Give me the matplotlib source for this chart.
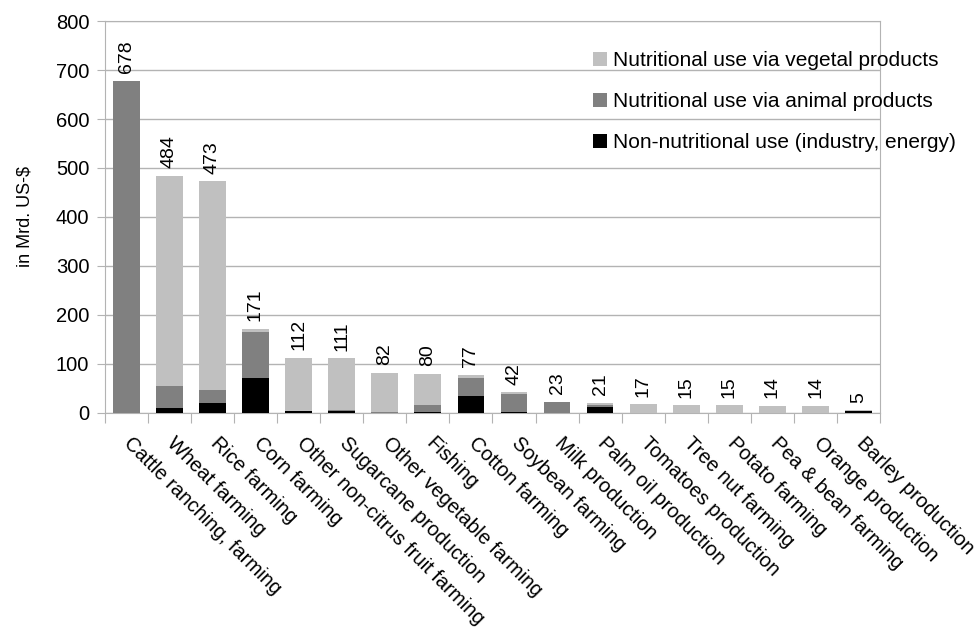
import numpy as np
import matplotlib.pyplot as plt

plt.rcParams['font.family'] = ['Liberation Sans', 'DejaVu Sans']

categories = ['Cattle ranching, farming', 'Wheat farming', 'Rice farming', 'Corn farming',
              'Other non-citrus fruit farming', 'Sugarcane production', 'Other vegetable farming',
              'Fishing', 'Cotton farming', 'Soybean farming', 'Milk production',
              'Palm oil production', 'Tomatoes production', 'Tree nut farming',
              'Potato farming', 'Pea & bean farming', 'Orange production', 'Barley production']
totals = [678, 484, 473, 171, 112, 111, 82, 80, 77, 42, 23, 21, 17, 15, 15, 14, 14, 5]
non_nutritional = [0, 9, 21, 72, 3, 3, 0, 2, 34, 2, 0, 12, 0, 0, 0, 0, 0, 3]
animal = [678, 45, 26, 92, 0, 3, 1, 14, 37, 36, 23, 4, 0, 0, 0, 0, 0, 1]
vegetal = [t - n - a for t, n, a in zip(totals, non_nutritional, animal)]

fig = plt.figure(figsize=(9.78, 6.39), dpi=100)
ax = fig.add_axes([0.107, 0.354, 0.793, 0.613])

x = np.arange(len(categories))
w = 0.62
ax.bar(x, non_nutritional, w, color='black', label='Non-nutritional use (industry, energy)', zorder=3)
ax.bar(x, animal, w, bottom=non_nutritional, color='#808080',
       label='Nutritional use via animal products', zorder=3)
bottom2 = np.array(non_nutritional) + np.array(animal)
ax.bar(x, vegetal, w, bottom=bottom2, color='#c0c0c0',
       label='Nutritional use via vegetal products', zorder=3)

# totals written vertically above each stack
for xi, t in zip(x, totals):
    ax.annotate(str(t), (xi, t), xytext=(0, 5.5), textcoords='offset points',
                rotation=90, ha='center', va='bottom', fontsize=14)

ax.set_xlim(-0.5, len(categories) - 0.5)
ax.set_ylim(0, 800)
ax.set_yticks(range(0, 801, 100))
ax.tick_params(axis='y', labelsize=14.5, length=6, pad=5, color='#b3b3b3')
ax.yaxis.grid(True, color='#b3b3b3', linewidth=1, zorder=0)
ax.set_ylabel('in Mrd. US-$', fontsize=13)
ax.yaxis.set_label_coords(-0.092, 0.5)

# category boundaries as ticks, names under the bars
ax.set_xticks(np.arange(-0.5, len(categories), 1))
ax.set_xticklabels([])
ax.tick_params(axis='x', length=7, color='#b3b3b3')
for xi, name in zip(x, categories):
    ax.text(xi + 0.02, -56, name, rotation=-45, rotation_mode='anchor',
            ha='left', va='center', fontsize=14.5)

for s in ax.spines.values():
    s.set_color('#b3b3b3')

handles, labels = ax.get_legend_handles_labels()
fig.legend(handles[::-1], labels[::-1], loc='upper left', bbox_to_anchor=(593 / 978, 1 - 51 / 639),
           bbox_transform=fig.transFigure, frameon=False, fontsize=15,
           handlelength=0.67, handleheight=0.67, labelspacing=1.06, handletextpad=0.3,
           borderpad=0, borderaxespad=0)

fig.savefig('out.png', dpi=100)
